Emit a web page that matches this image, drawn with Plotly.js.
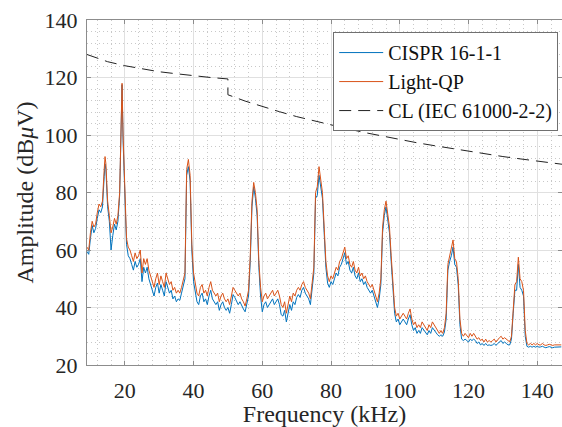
<!DOCTYPE html>
<html>
<head>
<meta charset="utf-8">
<script src="https://cdn.plot.ly/plotly-3.0.1.min.js"></script>
<style>html,body{margin:0;padding:0;background:#fff;}#chart{width:562px;height:427px;}</style>
</head>
<body>
<div id="chart"></div>
<script>
const freq = [
9,9.5,10,10.5,11,11.5,12,12.5,13,13.5,14,14.25,14.5,15,15.5,16,16.5,17,17.5,18,18.5,
19,19.2,19.5,20,20.5,21,21.5,22,22.5,23,23.5,24,24.5,25,25.5,26,26.5,27,27.5,28,28.5,
29,29.5,30,30.5,31,31.5,32,32.5,33,33.5,34,34.5,35,35.5,36,36.5,37,37.5,38,38.5,
39,39.5,40,40.5,41,41.5,42,42.5,43,43.5,44,44.5,45,45.5,46,46.5,47,47.5,48,48.5,
49,49.5,50,50.5,51,51.5,52,52.5,53,53.5,54,54.5,55,55.5,56,56.5,57,57.5,58,58.5,
59,59.5,60,60.5,61,61.5,62,62.5,63,63.5,64,64.5,65,65.5,66,66.5,67,67.5,68,68.5,
69,69.5,70,70.5,71,71.5,72,72.5,73,73.5,74,74.5,75,75.5,76,76.5,77,77.5,78,78.5,
79,79.5,80,80.5,81,81.5,82,82.5,83,83.5,84,84.5,85,85.5,86,86.5,87,87.5,88,88.5,
89,89.5,90,90.5,91,91.5,92,92.5,93,93.5,94,94.5,95,95.5,96,96.5,97,97.5,98,98.5,
99,99.5,100,100.5,101,101.5,102,102.5,103,103.5,104,104.5,105,105.5,106,106.5,107,107.5,108,108.5,
109,109.5,110,110.5,111,111.5,112,112.5,113,113.5,114,114.5,115,115.5,116,116.5,117,117.5,118,118.5,
119,119.5,120,120.5,121,121.5,122,122.5,123,123.5,124,124.5,125,125.5,126,126.5,127,127.5,128,128.5,
129,129.5,130,130.5,131,131.5,132,132.5,133,133.5,134,134.5,135,135.5,136,136.5,137,137.5,138,138.5,
139,139.5,140,140.5,141,141.5,142,142.5,143,143.5,144,144.5,145,145.5,146,146.5,147
];

const lightQP = [
61,60,66,70,68,69,73,76,75,77,88,92.5,90,77,72,66,68,71,69,72,80,
113,118,100,78,64,61,60,58,56,59,57,58,60,52,57,55,57,53,51,49,47,
50,52,48,51,49,47,52,50,48,49,46,47,45,46,45,47,50,52,88,91.5,
86,62,52,48,45,44,47,48,45,46,44,47,49,46,45,44,45,42,44,45,
43,42,43,41,44,47,46,45,44,45,43,42,40.5,43,46,58,77,83.5,80,74,
56,47,42,44,45,43,44,45,46,44,45,46,44,41,40,42,38,41,44,42,
45,44,46,47,46,48,49,47,46,45,43,48,54,80,82,89,84,80,68,56,
51,49,51,50,52,54,53,56,57,59,61,57,58,55,54,56,53,52,54,51,
52,50,51,49,48,47,48,46,44,42,45,50,68,74,77,72,68,58,47,40,
37,38,36,37,38,37,36,38,39.5,36,34,35,33,34,33,35,34,33,32,34,
33,35,34,33,32,31,32,31,33,38,55,58,60,63.5,57,56,50,36,31,30,
31,30,29.5,31,30,31,30,29,29.5,28.5,29,28,29,28,28.5,28,28.5,29,28,29,
29.5,30,29,29.5,29,28.5,28,30,40,48,49,57.5,50,49,46,32,27.5,27,27.5,27,
27.5,27,27.5,27,27,27.5,27,26.8,27,27.2,27,26.8,27,27,27.2,27,27
];

const cispr = [
59.5,58.5,64,68.5,66,67.5,71,74,73,75,85.5,90,88,75,70,60,65,69,67,70,79,
112,117.5,98,76,62,58,57,55,53,56,54,55,57,49,54,52,54,50,48,46,44,
47,48.5,45,48,46,44,49,47,45,46,43,44,42,43,42.5,45,48,50,86,89,
84,60,49,45,42,41,44,45,42,43,41,44,46,43,42,41,42,39,41,42,
40,39,40,38,41,44.5,43.5,42,41,42,40.5,39.5,38.5,41,44,56,75,82,78,72,
54,44,38.5,41,42,40,41,42,43,41,42,43,41,37.5,37,39,35,38,41,39,
42,41,43.5,44.5,43.5,46,47,45,44,43,41,46,52,78,79,86,82,78,66,54,
48.5,47,49,48,50,52,51,54,55,57,59,55,56,53,52,54,51,50,52,49,
50,48,49,47,46,45,46,44,42,40,43,48,66,72,75,70,66,56,45,38,
35,36,34,35,36,35,34,36,37.5,34,32,33,31,32,31,33,32,31,30.5,32,
31,33,32,31,30.5,30,30.5,30,31.5,36,53,56,58,61,55,54,48,34,29,28.5,
29,28.5,28,29,28.5,29,28.5,27.5,28,27,27.5,26.8,27.5,26.8,27,26.8,27,27.5,26.8,27.5,
28,28.5,27.5,28,27.5,27,27,29,38,46,46,55,47,46,44,30,26.5,26.2,26.5,26.2,
26.5,26.2,26.5,26.2,26.3,26.5,26.2,26,26.2,26.4,26.2,26,26.2,26.2,26.4,26.2,26.3
];

const clFreq = [9,15,20,25,30,35,40,45,50,50,55,60,65,70,75,80,85,90,95,100,105,110,115,120,125,130,135,140,145,150];
const clLevel = [128,125.5,124.1,123,122,121.3,120.6,120,119.5,114,111.8,109.9,108.1,106.4,104.9,103.4,102.1,100.8,99.6,98.4,97.3,96.3,95.3,94.3,93.4,92.5,91.7,90.9,90.1,89.4];

const seriesNames = ['CISPR 16-1-1', 'Light-QP', 'CL (IEC 61000-2-2)'];
const xTitle = 'Frequency (kHz)';
const yTitle = 'Amplitude (dB<i>μ</i>V)';

const serif = 'Liberation Serif';

const traces = [
  {x: freq, y: cispr, type: 'scatter', mode: 'lines', name: seriesNames[0],
   line: {color: '#0072BD', width: 1}},
  {x: freq, y: lightQP, type: 'scatter', mode: 'lines', name: seriesNames[1],
   line: {color: '#D95319', width: 1}},
  {x: clFreq, y: clLevel, type: 'scatter', mode: 'lines', name: seriesNames[2],
   line: {color: '#222222', width: 1, dash: '12px,7px'}}
];

const axisCommon = {
  showline: true, linecolor: '#8c8c8c', linewidth: 1, mirror: 'ticks',
  ticks: 'inside', ticklen: 4, tickcolor: '#8c8c8c',
  showgrid: true, gridcolor: '#e0e0e0', gridwidth: 1,
  zeroline: false,
  tickfont: {family: serif, size: 22, color: '#262626'},
  minor: {dtick: 4, tick0: 0, showgrid: true, gridcolor: '#c8c8c8', griddash: '1px,3px', gridwidth: 1, ticks: ''}
};

const layout = {
  width: 562, height: 427, autosize: false,
  margin: {l: 87, r: 0, t: 20, b: 62},
  paper_bgcolor: '#ffffff', plot_bgcolor: '#ffffff',
  font: {family: serif},
  showlegend: true,
  legend: {
    x: 0.992, y: 0.965, xanchor: 'right', yanchor: 'top',
    bgcolor: '#ffffff', bordercolor: '#707070', borderwidth: 1,
    font: {family: serif, size: 20, color: '#111111'},
    itemwidth: 44,
    tracegroupgap: 0
  },
  xaxis: Object.assign({}, axisCommon, {
    range: [9, 147.2], dtick: 20, tick0: 0, ticklabelstandoff: 6,
    title: {text: xTitle, font: {family: serif, size: 24, color: '#262626'}, standoff: 11}
  }),
  yaxis: Object.assign({}, axisCommon, {
    range: [20, 140], dtick: 20, tick0: 0, ticklabelstandoff: 4,
    title: {text: yTitle, font: {family: serif, size: 24, color: '#262626'}, standoff: 4}
  })
};

Plotly.newPlot('chart', traces, layout, {displayModeBar: false, staticPlot: true});
</script>
</body>
</html>
